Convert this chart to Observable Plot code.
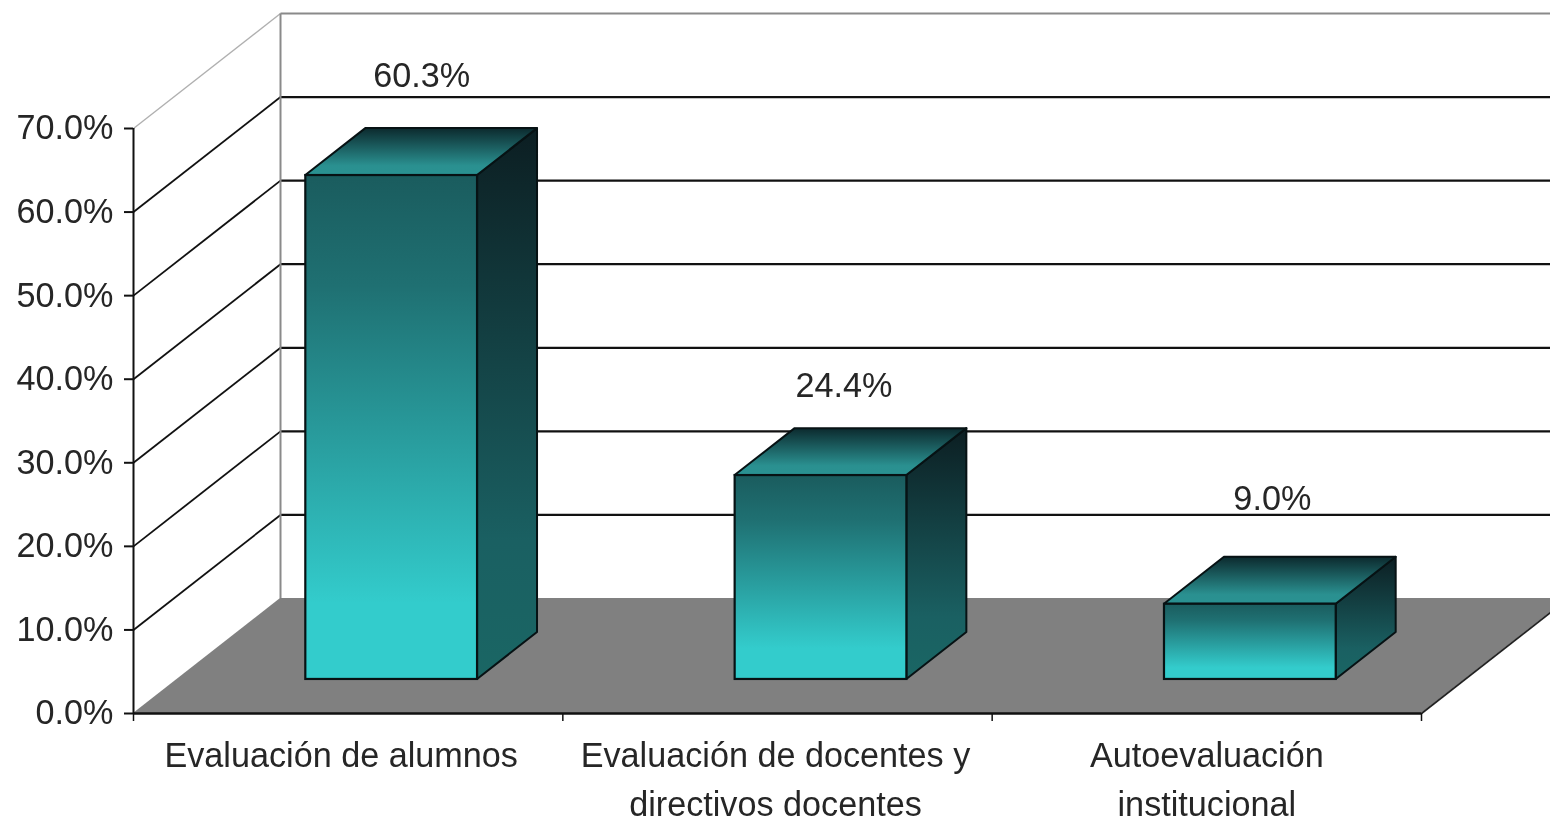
<!DOCTYPE html>
<html>
<head>
<meta charset="utf-8">
<script src="https://cdn.jsdelivr.net/npm/d3@7"></script>
<script src="https://cdn.jsdelivr.net/npm/@observablehq/plot@0.6"></script>
<style>
html,body{margin:0;padding:0;background:#fff;overflow:hidden}
svg{display:block;filter:blur(.45px)}
</style>
</head>
<body>
<div id="chart"></div>
<script>
const categories = ["Evaluación de alumnos", "Evaluación de docentes y\ndirectivos docentes", "Autoevaluación\ninstitucional"];
const values = [60.3, 24.4, 9.0];
const valueLabels = ["60.3%", "24.4%", "9.0%"];
const yTicks = [0, 10, 20, 30, 40, 50, 60, 70];
const xTicks = [0, 1, 2, 3];

// oblique projection of the depth axis, in units of the x and y scales
const depthX = 0.3424, depthY = 13.76;
const barInset = 0.3, barWidth = 0.4, depthFront = 0.296, depthBack = 0.704;
const px = (x, d) => x + d * depthX;
const py = (y, d) => y + d * depthY;

const FONT = "Liberation Sans, Arial, sans-serif";
const INK = "#262626";
const FS = 34.2;

const gradients = {
  front: [[0, "#1a5c5e"], [0.22, "#1f7072"], [0.85, "#33cccc"], [1, "#33cccc"]],
  side: [[0, "#0c1e22"], [0.75, "#1a6062"], [1, "#1a6664"]],
  top: [[0, "#0c2a2e"], [0.8, "#2a9090"], [1, "#2a9292"]]
};
function defs() {
  const d = d3.create("svg:defs");
  for (const [id, stops] of Object.entries(gradients)) {
    const g = d.append("linearGradient").attr("id", id).attr("x1", 0).attr("x2", 0).attr("y1", 0).attr("y2", 1);
    for (const [o, c] of stops) g.append("stop").attr("offset", o).attr("stop-color", c);
  }
  return d.node();
}

const bars = values.map((v, i) => ({i, v, left: i + barInset, right: i + barInset + barWidth}));
const sideFaces = bars.flatMap(b => [depthFront, depthBack].map(d => ({
  i: b.i, x: px(b.right, d), y1: py(0, d), y2: py(b.v, d)
})));
const topFaces = bars.flatMap(b => [depthFront, depthBack].map(d => ({
  i: b.i, x1: px(b.left, d), x2: px(b.right, d), y: py(b.v, d)
})));
const frontFaces = bars.map(b => ({
  x1: px(b.left, depthFront), x2: px(b.right, depthFront), y1: py(0, depthFront), y2: py(b.v, depthFront)
}));
const floor = [0, 1].map(d => ({x1: px(0, d), x2: px(3, d), y: py(0, d)}));
const darkTicks = yTicks.slice(0, -1);
const topTick = yTicks[yTicks.length - 1];

const labelNudge = [[0, -42], [-7, -32], [-8, -47]];
const catNudge = [-7, -2, 0];

const plot = Plot.plot({
  width: 1550, height: 822,
  marginLeft: 133, marginRight: 129, marginTop: 128, marginBottom: 109,
  x: {domain: [0, 3], axis: null},
  y: {domain: [0, 70], axis: null},
  style: {background: "#fff", overflow: "hidden", fontFamily: FONT},
  marks: [
    defs,
    // walls
    Plot.link(darkTicks.filter(t => t > 0), {x1: 0, y1: t => t, x2: depthX, y2: t => py(t, 1), stroke: "#111", strokeWidth: 1.8}),
    Plot.link([topTick], {x1: 0, y1: t => t, x2: depthX, y2: t => py(t, 1), stroke: "#b0b0b0", strokeWidth: 1.4}),
    Plot.link(darkTicks.filter(t => t > 0), {x1: depthX, x2: depthX + 3, y1: t => py(t, 1), y2: t => py(t, 1), stroke: "#111", strokeWidth: 2.2}),
    Plot.link([topTick], {x1: depthX, x2: depthX + 3, y1: t => py(t, 1), y2: t => py(t, 1), stroke: "#8a8a8a", strokeWidth: 2}),
    Plot.link([0], {x1: depthX, x2: depthX, y1: py(0, 1), y2: py(topTick, 1), stroke: "#8a8a8a", strokeWidth: 2}),
    // floor
    Plot.area(floor, {x1: "x1", x2: "x2", y1: "y", y2: "y", fill: "#808080"}),
    Plot.link([0], {x1: 3, y1: 0, x2: px(3, 1), y2: py(0, 1), stroke: "#222", strokeWidth: 1.8}),
    // bars
    Plot.area(sideFaces, {x1: "x", y1: "y1", y2: "y2", z: "i", fill: "url(#side)", stroke: "#071214", strokeWidth: 2}),
    Plot.area(topFaces, {x1: "x1", x2: "x2", y1: "y", y2: "y", z: "i", fill: "url(#top)", stroke: "#071214", strokeWidth: 2}),
    Plot.rect(frontFaces, {x1: "x1", x2: "x2", y1: "y1", y2: "y2", fill: "url(#front)", stroke: "#071214", strokeWidth: 2.2, inset: 0}),
    // axes
    Plot.axisY({ticks: yTicks, tickSize: 9, tickPadding: 11, strokeWidth: 2, stroke: "#111", color: INK, fill: INK, fontSize: FS, tickFormat: t => t.toFixed(1) + "%", label: null}),
    Plot.ruleX([0], {y1: 0, y2: 70, stroke: "#111", strokeWidth: 2}),
    Plot.ruleY([0], {x1: 0, x2: 3, stroke: "#111", strokeWidth: 2.5}),
    Plot.axisX({ticks: xTicks, tickSize: 8, tickFormat: () => "", stroke: "#111", strokeWidth: 1.5, label: null}),
    // labels
    categories.map((c, i) => Plot.text([c], {
      x: i + 0.5, frameAnchor: "bottom", dy: 18, dx: catNudge[i], lineAnchor: "top",
      text: d => d, fontSize: FS, lineHeight: 1.45, fill: INK
    })),
    values.map((v, i) => Plot.text([valueLabels[i]], {
      x: px(bars[i].left + barWidth / 2, 0.5), y: py(v, depthBack),
      dx: labelNudge[i][0], dy: labelNudge[i][1], lineAnchor: "bottom",
      text: d => d, fontSize: FS, fill: INK
    }))
  ]
});
document.getElementById("chart").append(plot);
</script>
</body>
</html>
